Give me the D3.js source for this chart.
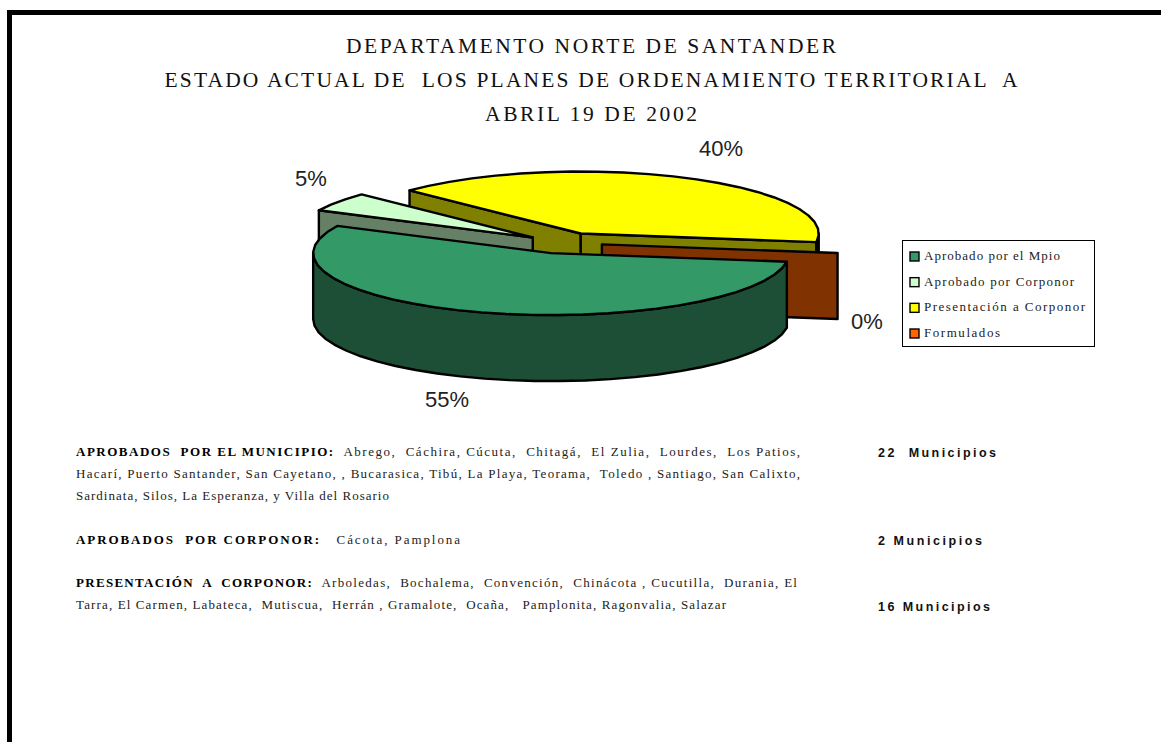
<!DOCTYPE html>
<html><head><meta charset="utf-8">
<style>html,body{margin:0;padding:0;background:#fff;overflow:hidden}svg{display:block}</style>
<script src="https://d3js.org/d3.v7.min.js"></script></head><body>
<script>
const categories=["Aprobado por el Mpio","Aprobado por Corponor","Presentación a Corponor","Formulados"];
const municipios=[22,2,16,0];
const pctLabels=["55%","5%","40%","0%"];
const topColors=["#339966","#ccffcc","#ffff00","#ff6600"];
const wallColors=["#1c4f36","#668066","#808000","#803300"];
const explodeBy=[0.17,0.155,0.17,0.165];
const titleLines=["DEPARTAMENTO NORTE DE SANTANDER","ESTADO ACTUAL DE  LOS PLANES DE ORDENAMIENTO TERRITORIAL  A","ABRIL 19 DE 2002"];
const noteLines=[
 {y:456,x:76,w:724,parts:[["APROBADOS  POR EL MUNICIPIO:",1],["  Abrego,  Cáchira, Cúcuta,  Chitagá,  El Zulia,  Lourdes,  Los Patios,",0]]},
 {y:478,x:76,w:724,parts:[["Hacarí, Puerto Santander, San Cayetano, , Bucarasica, Tibú, La Playa, Teorama,  Toledo , Santiago, San Calixto,",0]]},
 {y:500,x:76,w:313,parts:[["Sardinata, Silos, La Esperanza, y Villa del Rosario",0]]},
 {y:544,x:76,w:384,parts:[["APROBADOS  POR CORPONOR:",1],["   Cácota, Pamplona",0]]},
 {y:587,x:76,w:721,parts:[["PRESENTACIÓN  A  CORPONOR:",1],["  Arboledas,  Bochalema,  Convención,  Chinácota , Cucutilla,  Durania, El",0]]},
 {y:609,x:76,w:650,parts:[["Tarra, El Carmen, Labateca,  Mutiscua,  Herrán , Gramalote,  Ocaña,   Pamplonita, Ragonvalia, Salazar",0]]}];
const countLines=[{y:457,w:118,t:"22  Municipios"},{y:545,w:104,t:"2 Municipios"},{y:611,w:112,t:"16 Municipios"}];

const W=1161,H=742;
const svg=d3.select("body").append("svg").attr("width",W).attr("height",H);
svg.append("rect").attr("width",W).attr("height",H).attr("fill","#fff");
svg.append("path").attr("d",`M9.5,${H+5}V12.5H${W+5}`).attr("fill","none").attr("stroke","#000").attr("stroke-width",5);

const serif="'Liberation Serif',serif", sans="'Liberation Sans',Arial,sans-serif";
svg.selectAll("text.title").data(titleLines).join("text").attr("class","title")
 .attr("x",591).attr("y",(d,i)=>53+i*34).attr("text-anchor","middle")
 .attr("font-family",serif).attr("font-size",21.5).attr("fill","#111")
 .style("white-space","pre").attr("textLength",(d,i)=>[490,853,212][i]).attr("lengthAdjust","spacing").text(d=>d);

const start=98*Math.PI/180;
const pie=d3.pie().value(d=>d).sort(null).startAngle(start).endAngle(start+2*Math.PI);
const arcs=pie(municipios);
const cx=563,cy=243,rx=238,ry=62,depth=66;
const px=d3.scaleLinear().domain([-1,1]).range([cx-rx,cx+rx]);
const py=d3.scaleLinear().domain([-1,1]).range([cy+ry,cy-ry]);
const line=d3.line();
const g=svg.append("g").attr("stroke","#000").attr("stroke-width",2.4).attr("stroke-linejoin","round");
const step=0.11;
[2,3,1,0].forEach(i=>{
  const a=arcs[i],mid=(a.startAngle+a.endAngle)/2,explode=explodeBy[i];
  const ox=explode*Math.sin(mid),oy=explode*Math.cos(mid);
  const X=(r,t)=>px(ox+r*Math.sin(t)),Y=(r,t)=>py(oy+r*Math.cos(t));
  const apex=[X(0,0),Y(0,0)];
  const rim=(s,e)=>{const n=Math.max(1,Math.ceil((e-s)/step));return d3.range(0,n+1).map(k=>{const t=s+(e-s)*k/n;return [X(1,t),Y(1,t)];});};
  const down=p=>[p[0],p[1]+depth];
  const wall=wallColors[i];
  const face=t=>{const q=[X(1,t),Y(1,t)];g.append("path").attr("fill",wall).attr("d",line([apex,q,down(q),down(apex)])+"Z");};
  if(Math.sin(a.startAngle)<0&&a.endAngle>a.startAngle) face(a.startAngle);
  if(Math.sin(a.endAngle)>0) face(a.endAngle);
  const tau=2*Math.PI;
  for(const k of [0,1]){
    const s=Math.max(a.startAngle,Math.PI/2+k*tau),e=Math.min(a.endAngle,3*Math.PI/2+k*tau);
    if(e>s){const r=rim(s,e);g.append("path").attr("fill",wall).attr("d",line(r.concat(r.slice().reverse().map(down)))+"Z");}
  }
  if(a.endAngle>a.startAngle){
    g.append("path").attr("fill",topColors[i]).attr("d",line([apex].concat(rim(a.startAngle,a.endAngle)))+"Z");
  }
});

const labelPos=[[447,407],[311,186],[721,156],[867,329]];
svg.selectAll("text.pct").data(pctLabels).join("text").attr("class","pct")
 .attr("x",(d,i)=>labelPos[i][0]).attr("y",(d,i)=>labelPos[i][1]).attr("text-anchor","middle")
 .attr("font-family",sans).attr("font-size",22).attr("fill","#222").text(d=>d);

const lg=svg.append("g");
lg.append("rect").attr("x",902.5).attr("y",240.5).attr("width",192).attr("height",106).attr("fill","#fff").attr("stroke","#000");
const ly=d3.scalePoint().domain(categories).range([256,333]);
categories.forEach((c,i)=>{
  lg.append("rect").attr("x",910).attr("y",ly(c)-4).attr("width",9).attr("height",9).attr("fill",topColors[i]).attr("stroke","#000").attr("stroke-width",1.4);
  lg.append("text").attr("x",924).attr("y",ly(c)+4).attr("font-family",serif).attr("font-size",13).attr("fill","#222")
    .attr("textLength",[136,150,161,76][i]).attr("lengthAdjust","spacing").text(c);
});

noteLines.forEach(l=>{
  const t=svg.append("text").attr("x",l.x).attr("y",l.y).attr("font-family",serif).attr("font-size",13).attr("fill","#222")
    .style("white-space","pre").attr("textLength",l.w).attr("lengthAdjust","spacing");
  l.parts.forEach(p=>t.append("tspan").attr("font-weight",p[1]?"bold":"normal").attr("fill",p[1]?"#000":"#222").text(p[0]));
});
countLines.forEach(l=>{
  svg.append("text").attr("x",878).attr("y",l.y).attr("font-family",sans).attr("font-size",12.5).attr("font-weight","bold").attr("fill","#111")
    .style("white-space","pre").attr("textLength",l.w).attr("lengthAdjust","spacing").text(l.t);
});
</script></body></html>
